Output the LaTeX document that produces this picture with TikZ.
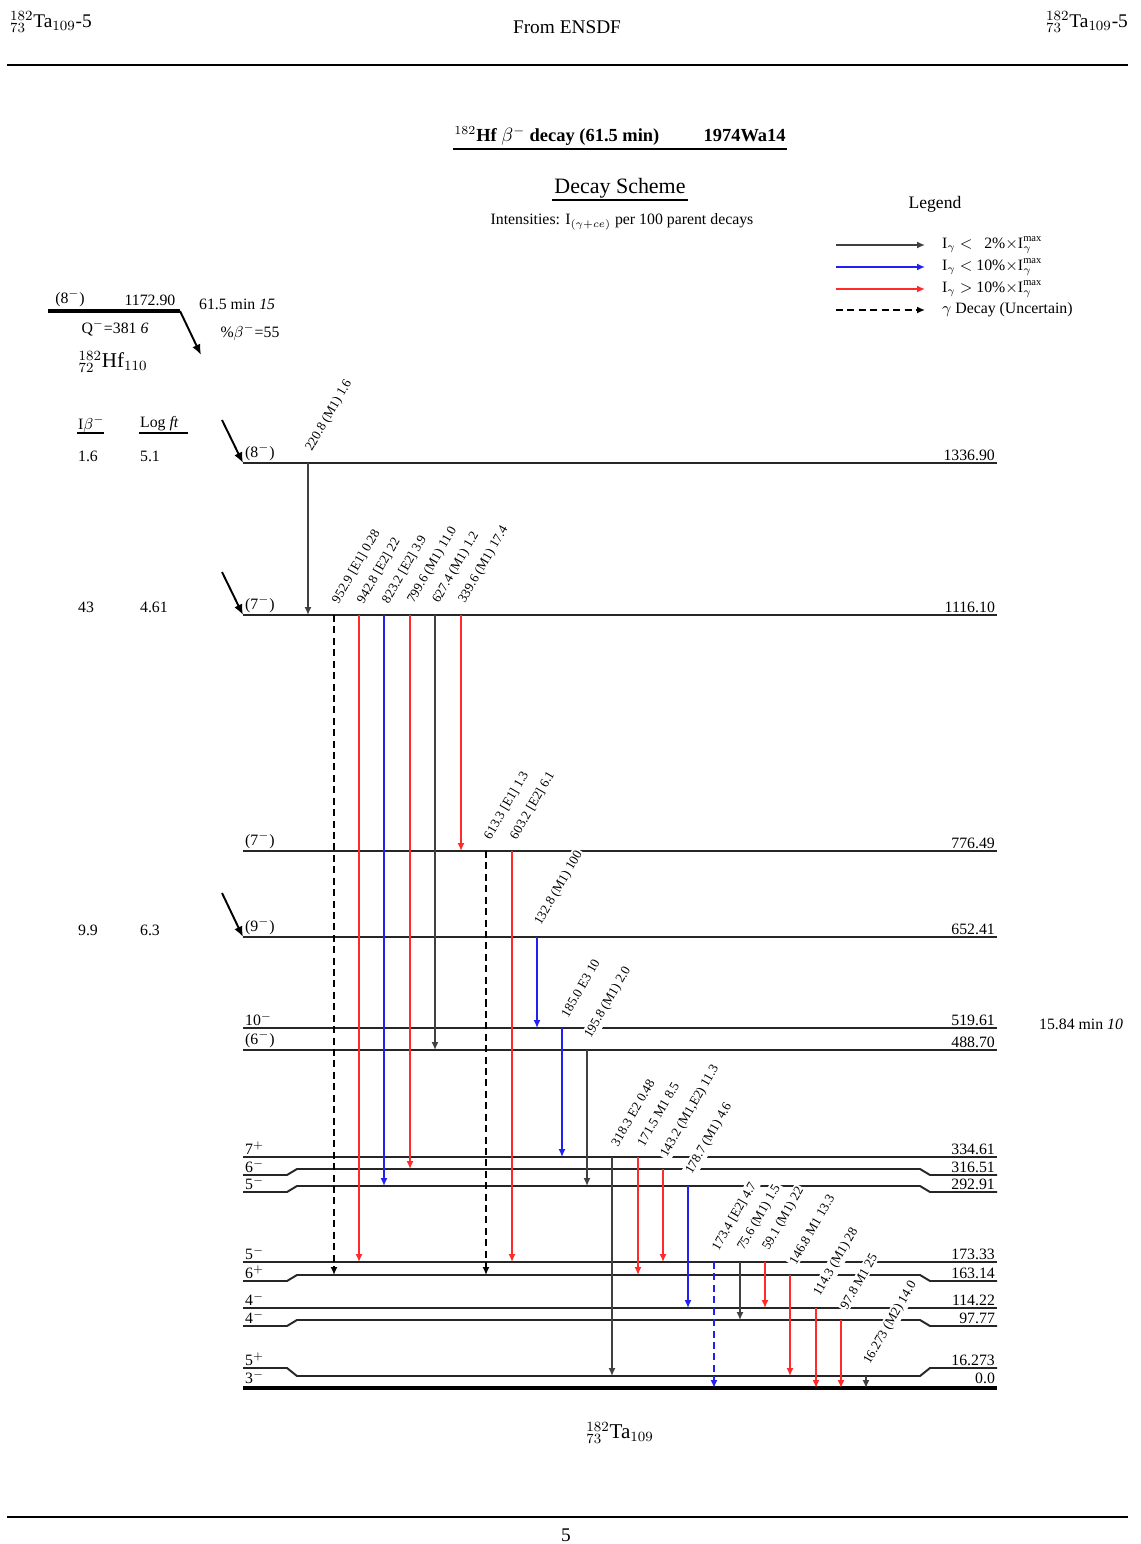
\documentclass[tikz,border=0pt]{standalone}
\usepackage{fontspec}
\setmainfont{Liberation Serif}
\usetikzlibrary{arrows.meta}
\definecolor{GamRed}{HTML}{FF2A2A}
\definecolor{GamBlue}{HTML}{2020F0}
\definecolor{GamGray}{HTML}{404040}
\newcommand{\nucl}[4]{${}^{#1}_{#2}$#3$_{#4}$}
\tikzset{
  lvl/.style={line width=1.1pt, draw=black!85},
  gslvl/.style={line width=2.4pt, draw=black},
  spinlbl/.style={anchor=south west, inner sep=1pt, font=\fontsize{9}{10}\selectfont},
  enlbl/.style={anchor=south east, inner sep=1pt, font=\fontsize{9}{10}\selectfont},
  glbl/.style={rotate=60, anchor=south west, fill=white, inner sep=1pt,
               font=\fontsize{7.5}{8}\selectfont},
  gk/.style={-{Latex[length=4.5pt,width=4pt]}, line width=1.1pt, draw=GamGray},
  gb/.style={gk, draw=GamBlue},
  gr/.style={gk, draw=GamRed},
  gkd/.style={gk, draw=black, dash pattern=on 4pt off 2.5pt},
  gbd/.style={gb, dash pattern=on 4pt off 2.5pt},
  betaarr/.style={-{Latex[length=6pt,width=5pt]}, line width=1.1pt},
  txt/.style={inner sep=1pt, font=\fontsize{9}{10}\selectfont},
  hdr/.style={inner sep=1pt, font=\fontsize{11}{12}\selectfont},
  rulebar/.style={line width=1.6pt}
}

\begin{document}
\begin{tikzpicture}[x=0.02cm, y=-0.02cm]
  \useasboundingbox (0,0) rectangle (1141,1544);

  % page header and footer
  \node[hdr, anchor=west] (hdrl) at (8,22) {\nucl{182}{73}{Ta}{109}-5};
  \node[hdr, anchor=east] (hdrr) at (1130,22) {\nucl{182}{73}{Ta}{109}-5};
  \node[hdr] (ensdf) at (567,27) {From ENSDF};
  \draw[rulebar] (7,65) -- (1128,65);
  \draw[rulebar] (7,1517) -- (1128,1517);
  \node[hdr] (pageno) at (566,1535) {5};

  % titles
  \node[inner sep=1pt, font=\bfseries\fontsize{10.5}{12}\selectfont] (title) at (620,136)
    {$^{182}$Hf $\beta^-$ decay (61.5 min)\hspace{2.4em}1974Wa14};
  \draw[line width=1pt] (453,149) -- (787,149);
  \node[inner sep=1pt, font=\fontsize{12.5}{14}\selectfont] (scheme) at (620,188) {Decay Scheme};
  \draw[line width=0.8pt] (scheme.south west) -- (scheme.south east);
  \node[txt] (inten) at (622,222) {Intensities: I$_{(\gamma+ce)}$ per 100 parent decays};

  % legend
  \node[txt, font=\fontsize{10}{11}\selectfont] (legend) at (935,204) {Legend};
  \foreach \ly/\ls/\lt in {245/gk/{I$_\gamma$ $<$ \hphantom{1}2\%$\times$I$_\gamma^{\max}$},
                          267/gb/{I$_\gamma$ $<$ 10\%$\times$I$_\gamma^{\max}$},
                          289/gr/{I$_\gamma$ $>$ 10\%$\times$I$_\gamma^{\max}$},
                          310/gkd/{$\gamma$ Decay (Uncertain)}}{
    \coordinate (ls\ly) at (836,\ly);
    \coordinate (le\ly) at (925,\ly);
    \draw[\ls] (ls\ly) -- (le\ly);
    \node[txt, anchor=west] (lt\ly) at (940,\ly) {\lt};
  }

  % parent
  \coordinate (pa) at (48,311);
  \coordinate (pb) at (180,311);
  \coordinate (pc) at (201,355);
  \draw[line width=2pt] (pa) -- (pb);
  \draw[betaarr] (pb) -- (pc);
  \node[txt] (pspin) at (70,298) {(8$^-$)};
  \node[txt] (pen) at (150,300) {1172.90};
  \node[txt, anchor=west] (phalf) at (197,304) {61.5 min \textit{15}};
  \node[txt] (pq) at (115,328) {Q$^-$=381 \textit{6}};
  \node[txt] (pbr) at (250,332) {\%$\beta^-$=55};
  \node[inner sep=1pt, font=\fontsize{12}{13}\selectfont] (hf) at (113,362) {\nucl{182}{72}{Hf}{110}};

  % feeding columns
  \node[txt, anchor=west] (ibh) at (76,424) {I$\beta^-$};
  \node[txt, anchor=west] (lfh) at (138,424) {Log \textit{ft}};
  \draw[line width=0.8pt] (77,433) -- (104,433);
  \draw[line width=0.8pt] (139,433) -- (188,433);
  \foreach \by/\ib/\lf in {456/1.6/5.1, 607/43/4.61, 930/9.9/6.3}{
    \node[txt, anchor=west] (ib\by) at (76,\by) {\ib};
    \node[txt, anchor=west] (lf\by) at (138,\by) {\lf};
  }

  % levels of 182Ta
  \foreach \nm/\yy/\jp/\en in {a/463/(8$^-$)/1336.90, b/615/(7$^-$)/1116.10,
      c/851/(7$^-$)/776.49, d/937/(9$^-$)/652.41, e/1028/10$^-$/519.61,
      f/1050/(6$^-$)/488.70, g/1157/7$^+$/334.61, j/1262/5$^-$/173.33,
      l/1308/4$^-$/114.22}{
    \coordinate (L\nm) at (243,\yy);
    \coordinate (R\nm) at (997,\yy);
    \draw[lvl] (L\nm) -- (R\nm);
    \node[spinlbl] (J\nm) at (L\nm) {\jp};
    \node[enlbl] (E\nm) at (R\nm) {\en};
  }
  \foreach \nm/\ye/\ym/\jp/\en in {h/1175/1169/6$^-$/316.51, i/1192/1186/5$^-$/292.91,
      k/1281/1275/6$^+$/163.14, m/1326/1320/4$^-$/97.77, n/1368/1376/5$^+$/16.273}{
    \coordinate (L\nm) at (243,\ye);
    \coordinate (R\nm) at (997,\ye);
    \draw[lvl] (L\nm) -- (287,\ye) -- (297,\ym) -- (920,\ym) -- (930,\ye) -- (R\nm);
    \node[spinlbl] (J\nm) at (L\nm) {\jp};
    \node[enlbl] (E\nm) at (R\nm) {\en};
  }
  \coordinate (Lo) at (243,1388);
  \coordinate (Ro) at (997,1388);
  \draw[gslvl] (Lo) -- (Ro);
  \node[spinlbl] (Jo) at (243,1386) {3$^-$};
  \node[enlbl] (Eo) at (997,1386) {0.0};
  \node[inner sep=1pt, font=\fontsize{12}{13}\selectfont] (ta) at (620,1433) {\nucl{182}{73}{Ta}{109}};
  \node[txt, anchor=west] (iso) at (1037,1024) {15.84 min \textit{10}};

  % beta feedings
  \coordinate (fa) at (222,420);
  \coordinate (fb) at (222,572);
  \coordinate (fd) at (222,893);
  \draw[betaarr] (fa) -- (La);
  \draw[betaarr] (fb) -- (Lb);
  \draw[betaarr] (fd) -- (Ld);

  % gamma rays
  \foreach \gx/\ya/\yb/\gs/\gl in {
      308/463/615/gk/{220.8 (M1) 1.6},
      334/615/1275/gkd/{952.9 [E1] 0.28},
      359/615/1262/gr/{942.8 [E2] 22},
      384/615/1186/gb/{823.2 [E2] 3.9},
      410/615/1169/gr/{799.6 (M1) 11.0},
      435/615/1050/gk/{627.4 (M1) 1.2},
      461/615/851/gr/{339.6 (M1) 17.4},
      486/851/1275/gkd/{613.3 [E1] 1.3},
      512/851/1262/gr/{603.2 [E2] 6.1},
      537/937/1028/gb/{132.8 (M1) 100},
      562/1028/1157/gb/{185.0 E3 10},
      587/1050/1186/gk/{195.8 (M1) 2.0},
      612/1157/1376/gk/{318.3 E2 0.48},
      638/1157/1275/gr/{171.5 M1 8.5},
      663/1169/1262/gr/{143.2 (M1,E2) 11.3},
      688/1186/1308/gb/{178.7 (M1) 4.6},
      714/1262/1388/gbd/{173.4 [E2] 4.7},
      740/1262/1320/gk/{75.6 (M1) 1.5},
      765/1262/1308/gr/{59.1 (M1) 22},
      790/1275/1376/gr/{146.8 M1 13.3},
      816/1308/1388/gr/{114.3 (M1) 28},
      841/1320/1388/gr/{97.8 M1 25},
      866/1376/1388/gk/{16.273 (M2) 14.0}}{
    \coordinate (gt\gx) at (\gx,\ya);
    \coordinate (gb\gx) at (\gx,\yb);
    \node[glbl] (T\gx) at (\gx+7,\ya-7) {\gl};
    \draw[\gs] (gt\gx) -- (gb\gx);
  }
\end{tikzpicture}
\end{document}
